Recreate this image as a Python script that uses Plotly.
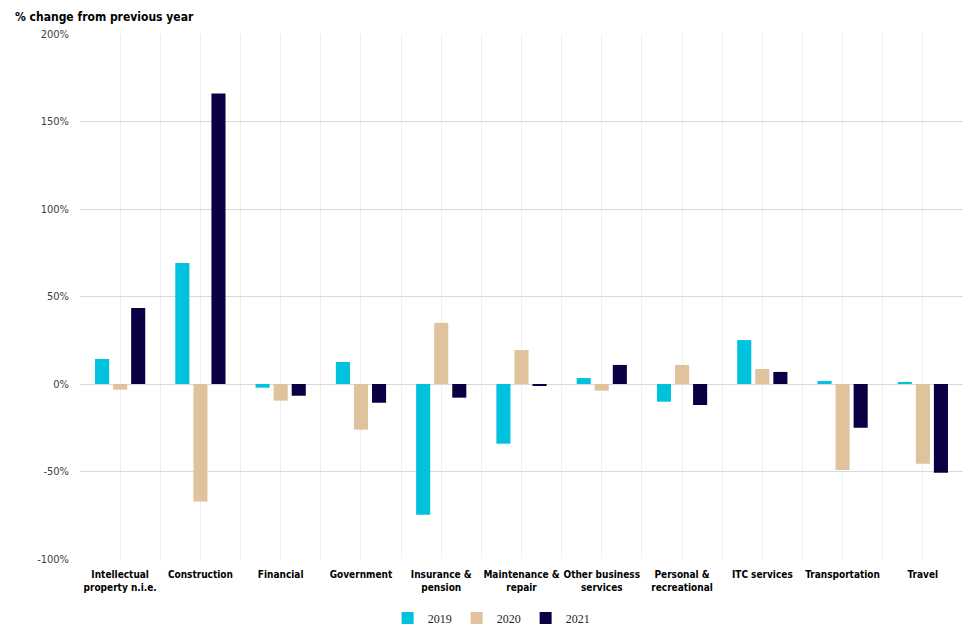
import plotly.graph_objects as go

categories = ["Intellectual<br>property n.i.e.", "Construction", "Financial", "Government",
              "Insurance &<br>pension", "Maintenance &<br>repair", "Other business<br>services",
              "Personal &<br>recreational", "ITC services", "Transportation", "Travel"]
years = ["2019", "2020", "2021"]
v2019 = [14.3, 69.1, -2.1, 12.6, -74.7, -34.1, 3.4, -10.1, 25.1, 1.7, 0.8]
v2020 = [-3.2, -67.2, -9.5, -26.1, 34.9, 19.4, -3.8, 10.9, 8.6, -49.1, -45.5]
v2021 = [43.4, 166.0, -6.7, -10.7, -7.8, -1.0, 10.9, -12.0, 6.9, -25.0, -50.7]
colors = ["#00C1DE", "#E0C39C", "#0B0044"]
ytick_vals = [-100, -50, 0, 50, 100, 150, 200]

xpos = list(range(len(categories)))
FONT = "DejaVu Sans Condensed, Liberation Sans Narrow, sans-serif"

fig = go.Figure()
for name, vals, col in zip(years, [v2019, v2020, v2021], colors):
    fig.add_trace(go.Bar(x=xpos, y=vals, name=name, marker=dict(color=col, line=dict(width=0))))

fig.update_layout(
    width=978, height=640,
    margin=dict(l=72, r=23, t=26, b=89, autoexpand=False),
    paper_bgcolor="white", plot_bgcolor="white",
    barmode="group", bargap=0.325, bargroupgap=0.22,
    showlegend=True,
    legend=dict(orientation="h", xref="container", yref="container", x=0.494, xanchor="center",
                y=0.047, yanchor="middle",
                font=dict(family="Liberation Serif, DejaVu Serif, serif", size=12, color="#222"),
                itemwidth=30, traceorder="normal"),
    font=dict(family=FONT),
    annotations=[dict(text="<b>% change from previous year</b>", xref="paper", yref="paper",
                      x=-0.0759, y=1.015, xanchor="left", yanchor="bottom", showarrow=False,
                      font=dict(family=FONT, size=12, color="black"))],
)
fig.update_xaxes(
    range=[-0.5, len(categories) - 0.5], automargin=False,
    tickmode="array", tickvals=xpos, ticktext=["<b>" + c + "</b>" for c in categories],
    tickangle=0,
    showgrid=True, gridcolor="#EFEFEF", gridwidth=1,
    minor=dict(tickmode="linear", tick0=-0.5, dtick=1, showgrid=True, gridcolor="#EFEFEF", gridwidth=1, ticks=""),
    ticks="", showline=False, zeroline=False, ticklabelstandoff=8,
    tickfont=dict(family=FONT, size=10, color="black"),
)
fig.update_yaxes(
    range=[-100, 200], tickmode="array", tickvals=ytick_vals, automargin=False,
    ticktext=[f"{v}%" for v in ytick_vals],
    showgrid=True, gridcolor="#D9D9D9", gridwidth=1,
    zeroline=True, zerolinecolor="#D9D9D9", zerolinewidth=1,
    showline=False, ticks="", ticklabelstandoff=10,
    tickfont=dict(family=FONT, size=11, color="#404040"),
)
fig.write_html("out.html")
